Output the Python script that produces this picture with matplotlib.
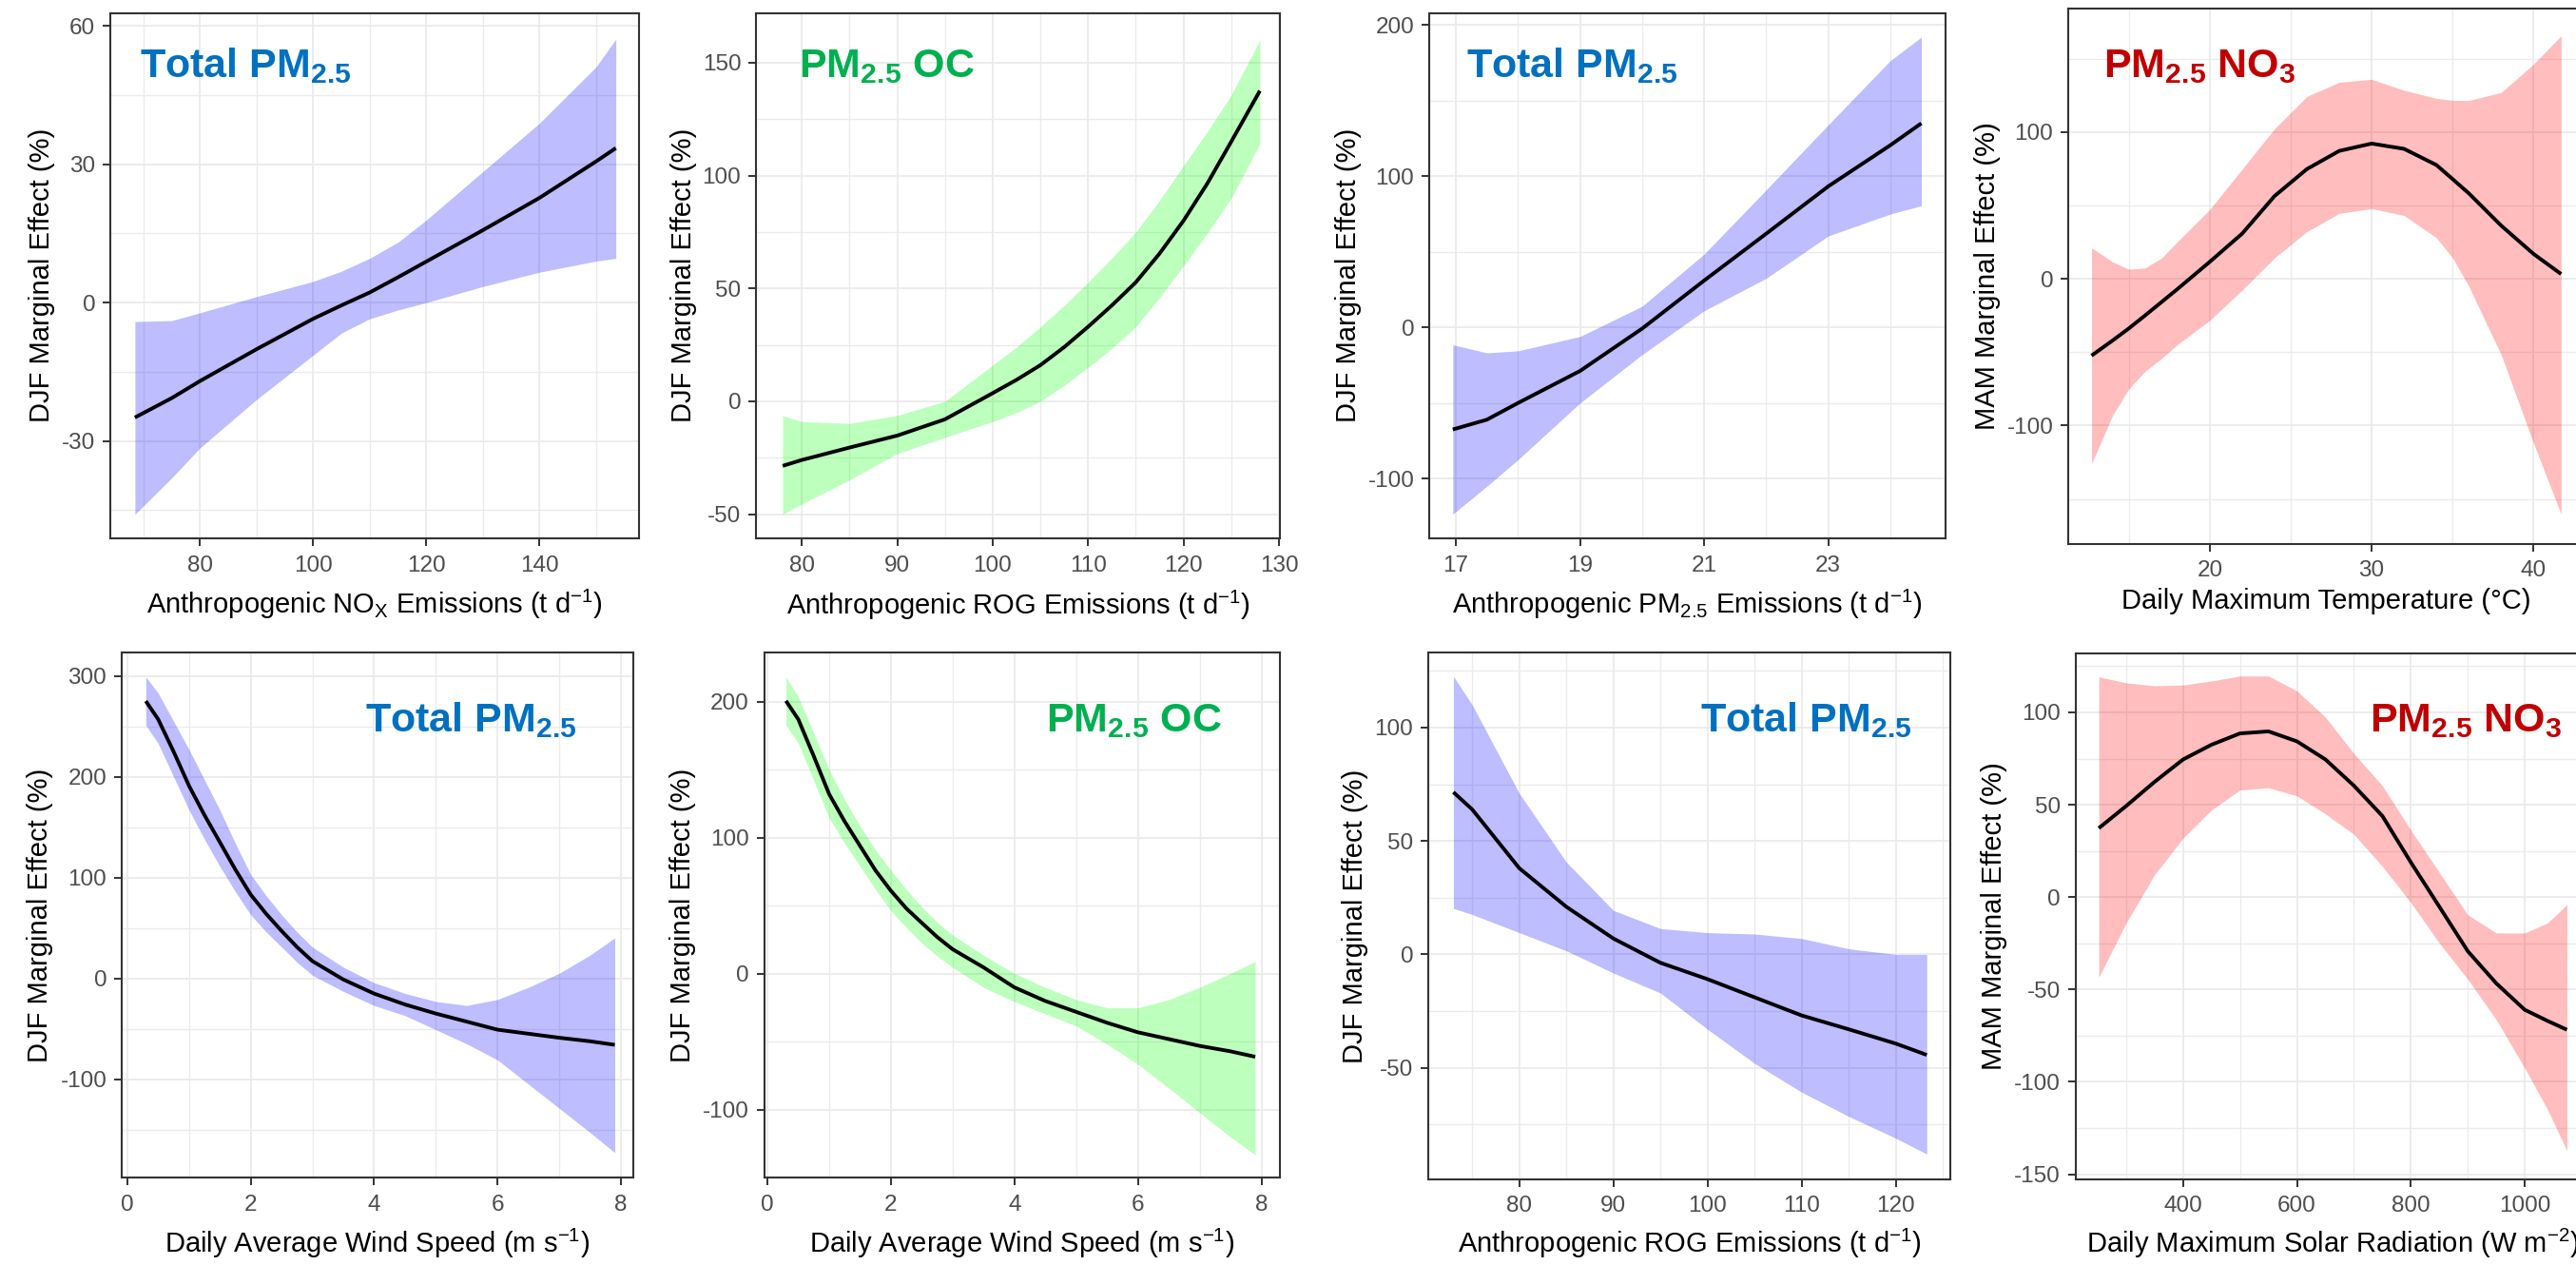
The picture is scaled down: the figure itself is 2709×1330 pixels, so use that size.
import numpy as np
import matplotlib
matplotlib.use('Agg')
import matplotlib.pyplot as plt
from matplotlib.ticker import FixedLocator

plt.rcParams['font.family'] = ['Liberation Sans', 'DejaVu Sans']
plt.rcParams['mathtext.fontset'] = 'custom'
plt.rcParams['mathtext.rm'] = 'Liberation Sans'
plt.rcParams['mathtext.it'] = 'Liberation Sans:italic'
plt.rcParams['mathtext.bf'] = 'Liberation Sans:bold'
plt.rcParams['mathtext.default'] = 'regular'

# ---------------- data ----------------
# Panel 1: DJF Total PM2.5 vs anthropogenic NOx
p1_x = [68.5, 75, 80, 90, 100, 105, 110, 115, 120, 130, 140, 150, 153.5]
p1_fit = [-24.9, -20.7, -17.0, -10.1, -3.5, -0.6, 2.2, 5.5, 8.9, 15.7, 22.7, 30.6, 33.5]
p1_hi = [-4.1, -3.9, -2.2, 1.3, 4.6, 6.8, 9.6, 13.1, 17.9, 28.4, 38.9, 51.1, 57.1]
p1_lo = [-45.9, -38.0, -31.5, -21.0, -11.4, -6.6, -3.5, -1.6, 0.0, 3.5, 6.6, 9.0, 9.6]

# Panel 2: DJF PM2.5 OC vs anthropogenic ROG
p2_x = [78, 80, 85, 90, 95, 100, 102.5, 105, 107.5, 110, 112.5, 115, 117.5, 120, 122.5, 125, 128]
p2_fit = [-28.6, -26.0, -20.5, -15.2, -8.0, 3.6, 9.5, 16.0, 24.0, 33.0, 42.5, 52.7, 65.5,
          80.0, 96.5, 115.0, 137.5]
p2_hi = [-6.3, -9.0, -9.8, -6.3, 0.0, 16.0, 24.0, 33.0, 42.5, 52.7, 63.5, 75.0, 89.0,
         104.5, 119.5, 135.7, 160.0]
p2_lo = [-50.0, -45.5, -34.8, -23.2, -16.0, -9.0, -5.0, 0.0, 7.0, 15.0, 23.5, 33.0, 46.0,
         60.0, 74.5, 90.0, 114.0]

# Panel 3: DJF Total PM2.5 vs anthropogenic PM2.5
p3_x = [16.95, 17.5, 18, 19, 20, 21, 22, 23, 24, 24.5]
p3_fit = [-67.5, -61.0, -50.0, -28.8, -0.8, 31.0, 62.0, 93.3, 120.5, 135.0]
p3_hi = [-11.5, -16.8, -15.5, -6.0, 14.0, 48.5, 91.0, 134.0, 176.5, 192.0]
p3_lo = [-123.5, -105.0, -87.5, -50.0, -18.0, 11.0, 32.5, 60.5, 75.0, 80.5]

# Panel 4: MAM PM2.5 NO3 vs daily maximum temperature
p4_x = [12.7, 14, 15, 16, 17, 18, 20, 22, 24, 26, 28, 30, 32, 34, 35, 36, 38, 40, 41.7]
p4_fit = [-52.3, -42.0, -33.8, -25.0, -16.0, -7.0, 11.6, 30.8, 56.4, 74.8, 87.2, 92.2,
          88.6, 77.6, 68.0, 58.3, 36.3, 17.0, 3.3]
p4_hi = [21.2, 11.6, 6.6, 7.4, 14.0, 25.3, 47.3, 74.8, 102.3, 124.3, 134.0, 136.0,
         128.5, 123.0, 121.6, 121.6, 127.0, 146.4, 165.6]
p4_lo = [-126.0, -93.0, -75.0, -63.0, -54.5, -44.8, -28.3, -7.7, 14.3, 32.2, 44.6, 47.9,
         43.2, 28.0, 14.3, -5.0, -51.7, -112.0, -160.4]

# Panel 5: DJF Total PM2.5 vs wind speed
p5_x = [0.3, 0.5, 0.75, 1, 1.25, 1.5, 1.75, 2, 2.25, 2.5, 2.75, 3, 3.5, 4, 4.5, 5, 5.5,
        6, 6.5, 7, 7.5, 7.9]
p5_fit = [275, 257, 225, 191, 162, 135, 108, 83, 64, 47, 31, 17, -1.2, -15.2, -26, -35,
          -43, -51, -55, -59, -62.5, -66]
p5_hi = [299, 283, 255, 227, 197, 167, 134, 103, 82, 63, 46, 31, 11, -4.4, -15, -23,
         -27, -21, -9, 5, 23, 40]
p5_lo = [251, 233, 200, 167, 138, 111, 86, 63, 46, 31, 16, 3, -13, -27, -37, -51,
         -65, -81, -105, -129, -153, -173]

# Panel 6: DJF PM2.5 OC vs wind speed
p6_x = [0.3, 0.5, 0.75, 1, 1.25, 1.5, 1.75, 2, 2.25, 2.5, 2.75, 3, 3.5, 4, 4.5, 5, 5.5,
        6, 6.5, 7, 7.5, 7.9]
p6_fit = [200.6, 187, 160, 132, 112, 94, 76, 61, 48, 37.4, 27, 18, 4.7, -10, -20, -28,
          -36, -43, -48, -53, -57, -61]
p6_hi = [218, 203.6, 177, 150, 128, 108.6, 91, 76, 62, 49, 38, 28.5, 13.6, 0.3, -10,
         -19, -25, -25, -19, -10, 0.3, 9]
p6_lo = [182.8, 169.4, 142, 114.5, 96, 79, 62, 46.3, 34, 22.6, 13, 4.7, -10, -20.5,
         -29.4, -38.3, -51.6, -66.5, -84, -102, -120, -133]

# Panel 7: DJF Total PM2.5 vs anthropogenic ROG
p7_x = [73, 75, 80, 85, 90, 95, 100, 105, 110, 115, 120, 123.3]
p7_fit = [71.5, 63.9, 38.0, 21.0, 7.0, -3.7, -10.9, -18.9, -26.9, -33.0, -39.3, -44.3]
p7_hi = [122.6, 110.0, 71.0, 40.7, 19.4, 11.4, 9.6, 9.0, 7.0, 2.5, 0.0, 0.0]
p7_lo = [20.3, 17.6, 9.6, 1.6, -8.2, -17.0, -33.0, -48.0, -60.7, -71.4, -81.0, -88.0]

# Panel 8: MAM PM2.5 NO3 vs daily maximum solar radiation
p8_x = [252, 300, 350, 400, 450, 500, 550, 600, 650, 700, 750, 800, 850, 900, 950, 1000, 1040, 1074]
p8_fit = [37.3, 49.3, 62.4, 74.5, 82.5, 88.6, 89.7, 84.3, 74.5, 60.3, 43.9, 18.8, -5.2,
          -29.3, -46.7, -61.0, -67.0, -71.8]
p8_hi = [119.2, 116.0, 114.4, 114.8, 117.0, 119.7, 119.7, 111.6, 97.4, 77.7, 60.3, 36.2,
         13.3, -9.6, -19.4, -19.4, -14.0, -4.1]
p8_lo = [-43.4, -14.0, 12.2, 31.9, 47.2, 58.0, 59.2, 54.8, 45.0, 34.0, 16.6, -3.0,
         -24.9, -44.5, -66.4, -92.6, -115.0, -137.3]

# labels
xlab_nox = r'Anthropogenic NO$_{\mathrm{X}}$ Emissions (t d$^{\mathrm{-1}}$)'
xlab_rog = r'Anthropogenic ROG Emissions (t d$^{\mathrm{-1}}$)'
xlab_pm = r'Anthropogenic PM$_{\mathrm{2.5}}$ Emissions (t d$^{\mathrm{-1}}$)'
xlab_tmax = 'Daily Maximum Temperature (\u00b0C)'
xlab_ws = r'Daily Average Wind Speed (m s$^{\mathrm{-1}}$)'
xlab_srad = r'Daily Maximum Solar Radiation (W m$^{\mathrm{-2}}$)'
ylab_djf = 'DJF Marginal Effect (%)'
ylab_mam = 'MAM Marginal Effect (%)'

title_total = r'Total PM$_{\mathbf{2.5}}$'
title_oc = r'PM$_{\mathbf{2.5}}$ OC'
title_no3 = r'PM$_{\mathbf{2.5}}$ NO$_{\mathbf{3}}$'

# ---------------- styles ----------------
BLUE, GREEN, RED = 'blue', '#00FF00', 'red'
T_BLUE, T_GREEN, T_RED = '#0070C0', '#00B050', '#C00000'

W, H = 2709, 1330
fig = plt.figure(figsize=(W / 100, H / 100), dpi=100)
fig.patch.set_facecolor('white')

panels = [
    dict(x=p1_x, fit=p1_fit, hi=p1_hi, lo=p1_lo, fill=BLUE, box=(116, 13.6, 672, 566),
         xlim=(64.15, 157.6), ylim=(-51.1, 62.8),
         xt=[80, 100, 120, 140], xm=[70, 90, 110, 130, 150],
         yt=[-30, 0, 30, 60], ym=[-45, -15, 15, 45],
         xlab=xlab_nox, ylab=ylab_djf, ylx=44, xlb=645,
         title=title_total, tc=T_BLUE, tpos=(147, 80.6)),
    dict(x=p2_x, fit=p2_fit, hi=p2_hi, lo=p2_lo, fill=GREEN, box=(795, 13.6, 1346, 566),
         xlim=(75.2, 130.1), ylim=(-60.7, 172),
         xt=[80, 90, 100, 110, 120, 130], xm=[85, 95, 105, 115, 125],
         yt=[-50, 0, 50, 100, 150], ym=[-25, 25, 75, 125],
         xlab=xlab_rog, ylab=ylab_djf, ylx=719, xlb=645.5,
         title=title_oc, tc=T_GREEN, tpos=(840, 80.6)),
    dict(x=p3_x, fit=p3_fit, hi=p3_hi, lo=p3_lo, fill=BLUE, box=(1503, 13.6, 2046, 566),
         xlim=(16.57, 24.89), ylim=(-139.5, 208),
         xt=[17, 19, 21, 23], xm=[18, 20, 22, 24],
         yt=[-100, 0, 100, 200], ym=[-50, 50, 150],
         xlab=xlab_pm, ylab=ylab_djf, ylx=1418, xlb=644.6,
         title=title_total, tc=T_BLUE, tpos=(1542, 80.6)),
    dict(x=p4_x, fit=p4_fit, hi=p4_hi, lo=p4_lo, fill=RED, box=(2175, 9.3, 2718, 571.7),
         xlim=(11.26, 43.15), ylim=(-180.5, 184),
         xt=[20, 30, 40], xm=[15, 25, 35],
         yt=[-100, 0, 100], ym=[-150, -50, 50, 150],
         xlab=xlab_tmax, ylab=ylab_mam, ylx=2090, xlb=640.4,
         title=title_no3, tc=T_RED, tpos=(2212, 80.6)),
    dict(x=p5_x, fit=p5_fit, hi=p5_hi, lo=p5_lo, fill=BLUE, box=(128, 686.2, 666, 1238.4),
         xlim=(-0.09, 8.2), ylim=(-198, 323),
         xt=[0, 2, 4, 6, 8], xm=[1, 3, 5, 7],
         yt=[-100, 0, 100, 200, 300], ym=[-150, -50, 50, 150, 250],
         xlab=xlab_ws, ylab=ylab_djf, ylx=42, xlb=1317,
         title=title_total, tc=T_BLUE, tpos=(384, 769)),
    dict(x=p6_x, fit=p6_fit, hi=p6_hi, lo=p6_lo, fill=GREEN, box=(803.6, 686.2, 1346, 1238.4),
         xlim=(-0.053, 8.3), ylim=(-150, 236),
         xt=[0, 2, 4, 6, 8], xm=[1, 3, 5, 7],
         yt=[-100, 0, 100, 200], ym=[-50, 50, 150],
         xlab=xlab_ws, ylab=ylab_djf, ylx=718, xlb=1317,
         title=title_oc, tc=T_GREEN, tpos=(1100, 769)),
    dict(x=p7_x, fit=p7_fit, hi=p7_hi, lo=p7_lo, fill=BLUE, box=(1502, 686.2, 2051, 1239.6),
         xlim=(70.33, 125.8), ylim=(-99, 133),
         xt=[80, 90, 100, 110, 120], xm=[75, 85, 95, 105, 115, 125],
         yt=[-50, 0, 50, 100], ym=[-75, -25, 25, 75, 125],
         xlab=xlab_rog, ylab=ylab_djf, ylx=1425, xlb=1317,
         title=title_total, tc=T_BLUE, tpos=(1788, 769)),
    dict(x=p8_x, fit=p8_fit, hi=p8_hi, lo=p8_lo, fill=RED, box=(2182.6, 687, 2724, 1239.6),
         xlim=(211, 1115), ylim=(-152.6, 131.9),
         xt=[400, 600, 800, 1000], xm=[300, 500, 700, 900, 1100],
         yt=[-150, -100, -50, 0, 50, 100], ym=[-125, -75, -25, 25, 75, 125],
         xlab=xlab_srad, ylab=ylab_mam, ylx=2097, xlb=1317,
         title=title_no3, tc=T_RED, tpos=(2492, 769)),
]

for p in panels:
    l, t, r, b = p['box']
    ax = fig.add_axes([l / W, 1 - b / H, (r - l) / W, (b - t) / H])
    ax.set_facecolor('white')
    ax.fill_between(p['x'], p['lo'], p['hi'], color=p['fill'], alpha=0.26,
                    linewidth=0, zorder=2)
    ax.plot(p['x'], p['fit'], color='black', lw=2.8, zorder=3,
            solid_joinstyle='round', solid_capstyle='butt')
    ax.set_xlim(*p['xlim'])
    ax.set_ylim(*p['ylim'])
    ax.xaxis.set_major_locator(FixedLocator(p['xt']))
    ax.xaxis.set_minor_locator(FixedLocator(p['xm']))
    ax.yaxis.set_major_locator(FixedLocator(p['yt']))
    ax.yaxis.set_minor_locator(FixedLocator(p['ym']))
    ax.set_xticklabels([str(v) for v in p['xt']])
    ax.set_yticklabels([str(v) for v in p['yt']])
    ax.grid(which='major', color='#EBEBEB', lw=1.3, zorder=0)
    ax.grid(which='minor', color='#EBEBEB', lw=1.0, zorder=0)
    ax.set_axisbelow(True)
    ax.tick_params(which='major', direction='out', length=5.8, width=1.4,
                   color='#333333', labelcolor='#4D4D4D', labelsize=17.5)
    ax.tick_params(axis='x', which='major', pad=7)
    ax.tick_params(axis='y', which='major', pad=5.5)
    ax.tick_params(which='minor', length=0)
    for s in ax.spines.values():
        s.set_color('#333333')
        s.set_linewidth(1.5)
        s.set_zorder(5)
    # axis titles
    fig.text((l + r) / 2 / W, 1 - p['xlb'] / H, p['xlab'], ha='center', va='baseline',
             fontsize=21, color='black')
    fig.text(p['ylx'] / W, 1 - (t + b) / 2 / H, p['ylab'], ha='center', va='center',
             rotation=90, fontsize=21, color='black')
    # panel title
    tx, ty = p['tpos']
    fig.text(tx / W, 1 - ty / H, p['title'], ha='left', va='baseline', fontsize=31,
             fontweight='bold', color=p['tc'])

fig.savefig('out.png', dpi=100, facecolor='white')
